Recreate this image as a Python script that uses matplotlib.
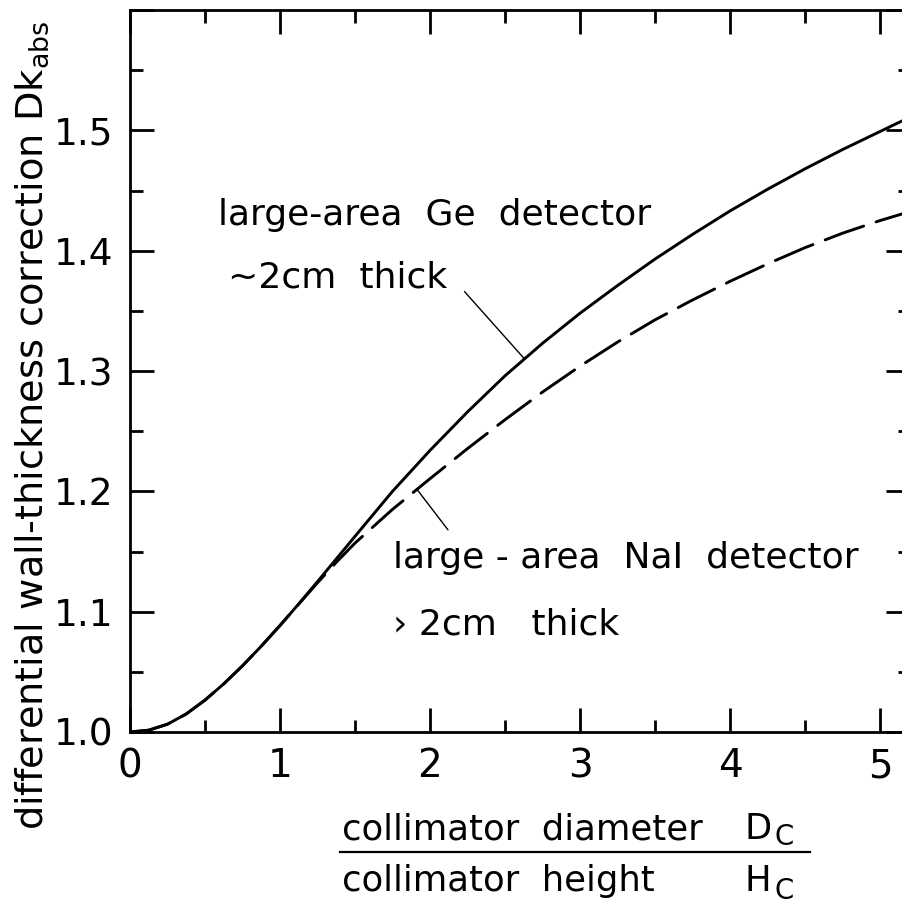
import numpy as np
import matplotlib
matplotlib.use("Agg")
import matplotlib.pyplot as plt
from matplotlib.ticker import MultipleLocator, FixedLocator, FormatStrFormatter

# Collimator aspect ratio D_C / H_C
ratio = [0.0, 0.125, 0.25, 0.375, 0.5, 0.625, 0.75, 0.875, 1.0, 1.125, 1.25,
         1.375, 1.5, 1.75, 2.0, 2.25, 2.5, 2.75, 3.0, 3.25, 3.5, 3.75, 4.0,
         4.25, 4.5, 4.75, 5.0, 5.2]
# Differential wall-thickness correction, large-area Ge detector (~2 cm thick)
dk_ge = [1.000, 1.0015, 1.0065, 1.015, 1.0265, 1.040, 1.055, 1.0713, 1.0885,
         1.1065, 1.125, 1.1438, 1.1626, 1.200, 1.234, 1.266, 1.296, 1.323,
         1.348, 1.371, 1.393, 1.4135, 1.433, 1.451, 1.468, 1.484, 1.499, 1.511]
# Differential wall-thickness correction, large-area NaI detector (>2 cm thick)
dk_nai = [1.000, 1.0015, 1.0065, 1.015, 1.0265, 1.040, 1.055, 1.0713, 1.0885,
          1.1063, 1.124, 1.141, 1.157, 1.185, 1.2105, 1.2355, 1.2595, 1.2825,
          1.304, 1.324, 1.3425, 1.359, 1.3745, 1.389, 1.4025, 1.4145, 1.425,
          1.4325]

x_ticks = [0, 1, 2, 3, 4, 5]
y_ticks = [1.0, 1.1, 1.2, 1.3, 1.4, 1.5]

W, H = 902, 906
FONT = "DejaVu Sans"
plt.rcParams["font.family"] = [FONT]

fig = plt.figure(figsize=(W / 100, H / 100), dpi=100)
fig.patch.set_facecolor("white")

def fx(px):
    return px / W

def fy(py):
    return 1 - py / H

left_px, right_px, top_px, bottom_px = 130, 910, 10, 732
ax = fig.add_axes([fx(left_px), fy(bottom_px),
                   (right_px - left_px) / W, (bottom_px - top_px) / H])
ax.set_xlim(0, 5.2)
ax.set_ylim(1.0, 1.6)

for s in ax.spines.values():
    s.set_linewidth(2.0)
    s.set_color("black")

ax.xaxis.set_major_locator(FixedLocator(x_ticks))
ax.xaxis.set_minor_locator(MultipleLocator(0.5))
ax.yaxis.set_major_locator(FixedLocator(y_ticks + [1.6]))
ax.yaxis.set_minor_locator(MultipleLocator(0.05))
ax.yaxis.set_major_formatter(FormatStrFormatter("%.1f"))

ax.tick_params(which="both", direction="in", top=True, right=True,
               width=2.0, color="black")
ax.tick_params(which="major", length=17)
ax.tick_params(which="minor", length=9)
ax.tick_params(axis="x", which="major", labelsize=28, pad=11)
ax.tick_params(axis="y", which="major", labelsize=27, pad=12)
labels = ax.get_yticklabels()
labels[-1].set_visible(False)

# Curves
ax.plot(ratio, dk_nai, color="black", lw=2.1, dashes=(14, 4.5),
        dash_capstyle="round")
ax.plot(ratio, dk_ge, color="black", lw=2.1)

# Annotations with leader lines onto the curves
tsize = 26
ge_x = 2.63
ge_y = float(np.interp(ge_x, ratio, dk_ge))
ax.annotate("", xy=(ge_x, ge_y), xytext=(2.23, 1.366),
            arrowprops=dict(arrowstyle="-", lw=1.0, color="black",
                            shrinkA=0, shrinkB=0))
ax.text(0.59, 1.421, "large-area  Ge  detector", fontsize=tsize,
        va="baseline", ha="left")
ax.text(0.65, 1.369, "~2cm  thick", fontsize=tsize, va="baseline", ha="left")

nai_x = 1.913
nai_y = float(np.interp(nai_x, ratio, dk_nai))
ax.annotate("", xy=(nai_x, nai_y), xytext=(2.12, 1.168),
            arrowprops=dict(arrowstyle="-", lw=1.0, color="black",
                            shrinkA=0, shrinkB=0))
ax.text(1.753, 1.136, "large - area  NaI  detector", fontsize=tsize,
        va="baseline", ha="left")
ax.text(1.753, 1.081, "\u203a 2cm   thick", fontsize=tsize,
        va="baseline", ha="left")

# y-axis label
fig.text(fx(32), fy(425),
         r"differential wall-thickness correction Dk$_\mathregular{abs}$",
         rotation=90, fontsize=27.5, ha="center", va="center")

# x-axis label written as a fraction
lsize = 25.5
fig.text(fx(342), fy(839), "collimator  diameter", fontsize=lsize,
         va="baseline", ha="left")
fig.text(fx(744), fy(839), "D", fontsize=lsize, va="baseline", ha="left")
fig.text(fx(775), fy(845), "C", fontsize=lsize * 0.78, va="baseline", ha="left")
fig.text(fx(342), fy(891), "collimator  height", fontsize=lsize,
         va="baseline", ha="left")
fig.text(fx(744), fy(891), "H", fontsize=lsize, va="baseline", ha="left")
fig.text(fx(775), fy(899), "C", fontsize=lsize * 0.78, va="baseline", ha="left")
fig.add_artist(plt.Line2D([fx(340), fx(810)], [fy(852), fy(852)],
                          color="black", lw=1.6))

fig.savefig("out.png", dpi=100, facecolor="white")
